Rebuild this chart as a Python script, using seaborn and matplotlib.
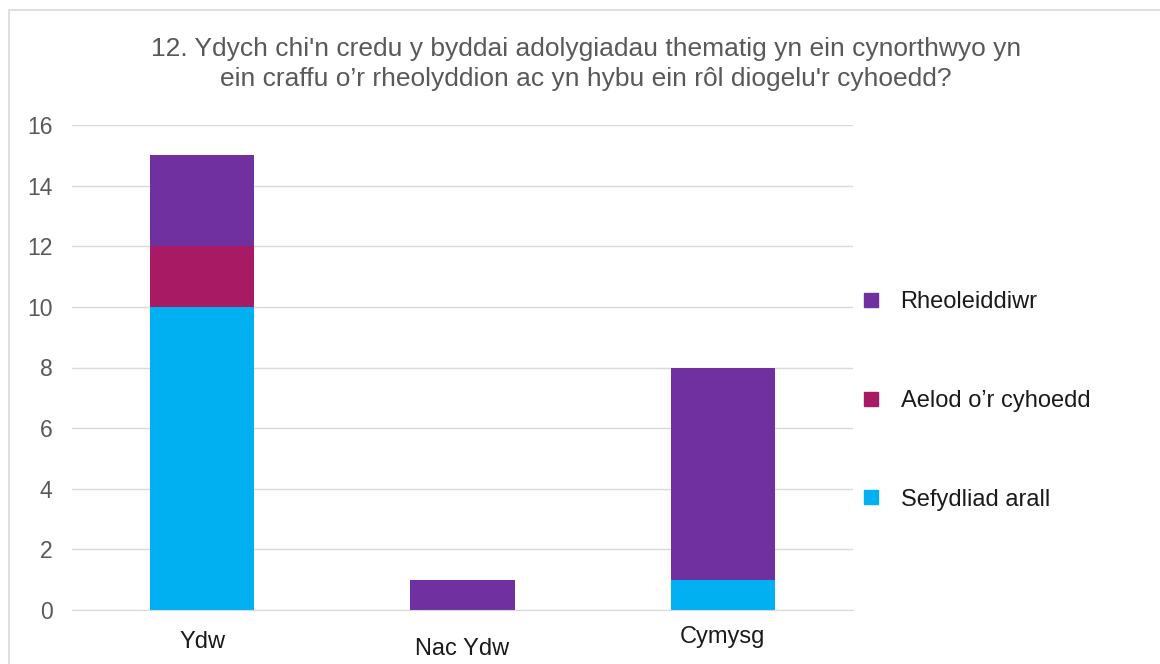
import seaborn as sns
import matplotlib.pyplot as plt
import pandas as pd
from matplotlib.lines import Line2D
from matplotlib.patches import Rectangle

categorias = ['Ydw', 'Nac Ydw', 'Cymysg']
sefydliad_arall = [10, 0, 1]
aelod_cyhoedd = [2, 0, 0]
rheoleiddiwr = [3, 1, 7]
y_ticks = [0, 2, 4, 6, 8, 10, 12, 14, 16]

titl = ("12. Ydych chi'n credu y byddai adolygiadau thematig yn ein cynorthwyo yn\n"
        "ein craffu o\u2019r rheolyddion ac yn hybu ein rôl diogelu'r cyhoedd?")

lliwiau = {'Rheoleiddiwr': '#7030A0', 'Aelod o\u2019r cyhoedd': '#A81B64',
           'Sefydliad arall': '#00B0F0'}

df = pd.DataFrame({
    'Categori': categorias,
    'Sefydliad arall': sefydliad_arall,
    'Aelod o\u2019r cyhoedd': aelod_cyhoedd,
    'Rheoleiddiwr': rheoleiddiwr,
})
# cyfansymiau cronnus er mwyn pentyrru
df['c1'] = df['Sefydliad arall']
df['c2'] = df['c1'] + df['Aelod o\u2019r cyhoedd']
df['c3'] = df['c2'] + df['Rheoleiddiwr']

sns.set_style('white')
plt.rcParams['font.family'] = ['Liberation Sans', 'DejaVu Sans']

fig = plt.figure(figsize=(11.6, 6.64), dpi=100)
ax = fig.add_axes([72 / 1160, 1 - 610 / 664, (853 - 72) / 1160, (610 - 125) / 664])

for col, enw in [('c3', 'Rheoleiddiwr'), ('c2', 'Aelod o\u2019r cyhoedd'), ('c1', 'Sefydliad arall')]:
    sns.barplot(data=df, x='Categori', y=col, color=lliwiau[enw], width=0.4,
                saturation=1, ax=ax, zorder=3, linewidth=0)

ax.set_xlim(-0.5, 2.5)
ax.set_ylim(0, 16)
ax.set_yticks(y_ticks)
ax.grid(axis='y', color='#D9D9D9', lw=1, zorder=0)
ax.grid(axis='x', visible=False)
for s in ['top', 'right', 'left']:
    ax.spines[s].set_visible(False)
ax.spines['bottom'].set_color('#D9D9D9')
ax.spines['bottom'].set_zorder(4)
ax.tick_params(axis='y', length=0, labelsize=16.5, labelcolor='#595959', pad=14)
ax.tick_params(axis='x', length=0)
ax.set_xticklabels([])
ax.set_xlabel('')
ax.set_ylabel('')

# labeli categori (mae "Nac Ydw" ychydig yn is)
gwrthbwyso = [38, 45, 33]
for i, (c, g) in enumerate(zip(categorias, gwrthbwyso)):
    ax.annotate(c, xy=(i, 0), xycoords=('data', 'axes fraction'),
                xytext=(0, -g * 0.72), textcoords='offset points',
                ha='center', va='baseline', fontsize=17, color='#1a1a1a')

fig.text(586 / 1160, 1 - 64 / 664, titl, ha='center', va='center', fontsize=19,
         color='#595959', linespacing=1.3)

handles = [Line2D([], [], marker='s', ls='', color=lliwiau[k], markersize=9.4)
           for k in ['Rheoleiddiwr', 'Aelod o\u2019r cyhoedd', 'Sefydliad arall']]
fig.legend(handles, ['Rheoleiddiwr', 'Aelod o\u2019r cyhoedd', 'Sefydliad arall'],
           loc='center left', bbox_to_anchor=(864 / 1160, 1 - 401 / 664),
           frameon=False, fontsize=17, labelspacing=3.25, handlelength=0.6,
           handletextpad=0.95, borderpad=0, borderaxespad=0,
           labelcolor='#1a1a1a')

fig.patches.append(Rectangle((9 / 1160, -0.01), 1.2, 1 - 10 / 664 + 0.01,
                             transform=fig.transFigure, fill=False,
                             edgecolor='#D9D9D9', lw=1.2))

fig.savefig('out.png', dpi=100)
